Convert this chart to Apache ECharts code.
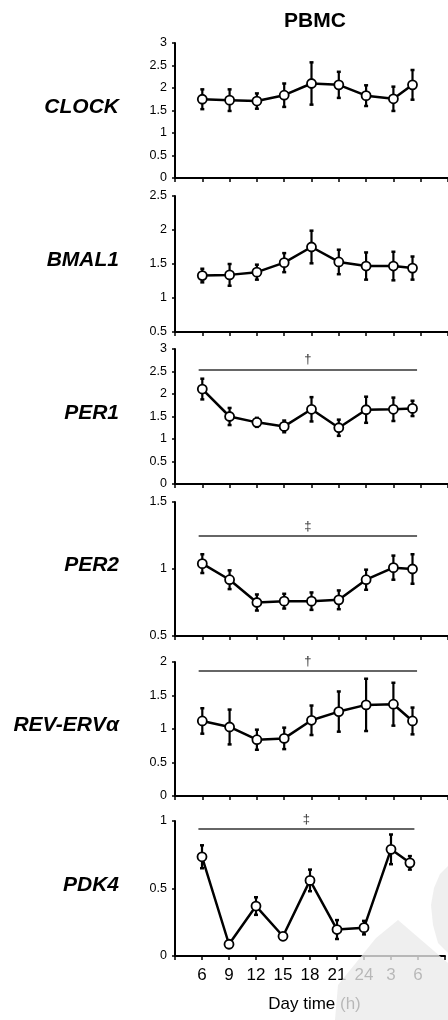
<!DOCTYPE html>
<html>
<head>
    <meta charset="utf-8">
    <title>PBMC clock genes</title>
    <script src="https://cdn.jsdelivr.net/npm/echarts@6/dist/echarts.min.js"></script>
    <style>
        html, body {margin:0;padding:0;background:#fff;}
        #chart {width:448px;height:1020px;}
    </style>
</head>
<body>
<div id="chart"></div>
<script>
    // sampling times (h, continuous), last point sits a bit before the 6h tick
    const hours = [6, 9, 12, 15, 18, 21, 24, 27, 29.1];
    const tickLabels = ['6', '9', '12', '15', '18', '21', '24', '3', '6'];

    const genes = ['CLOCK', 'BMAL1', 'PER1', 'PER2', 'REV-ERVα', 'PDK4'];

    const clockMean = [1.75, 1.73, 1.71, 1.84, 2.10, 2.07, 1.83, 1.76, 2.07];
    const clockErr = [0.22, 0.24, 0.17, 0.26, 0.47, 0.29, 0.23, 0.27, 0.33];
    const bmal1Mean = [1.33, 1.34, 1.38, 1.52, 1.75, 1.53, 1.47, 1.47, 1.44];
    const bmal1Err = [0.10, 0.16, 0.11, 0.14, 0.24, 0.18, 0.20, 0.21, 0.17];
    const per1Mean = [2.11, 1.50, 1.37, 1.28, 1.66, 1.25, 1.65, 1.66, 1.68];
    const per1Err = [0.23, 0.19, 0.10, 0.13, 0.27, 0.18, 0.29, 0.26, 0.17];
    const per2Mean = [1.04, 0.92, 0.75, 0.76, 0.76, 0.77, 0.92, 1.01, 1.00];
    const per2Err = [0.07, 0.07, 0.06, 0.055, 0.065, 0.07, 0.075, 0.09, 0.11];
    const reverbMean = [1.12, 1.03, 0.84, 0.86, 1.13, 1.26, 1.36, 1.37, 1.12];
    const reverbErr = [0.19, 0.26, 0.15, 0.16, 0.22, 0.30, 0.39, 0.32, 0.20];
    const pdk4Mean = [0.735, 0.087, 0.37, 0.146, 0.56, 0.196, 0.21, 0.79, 0.69];
    const pdk4Err = [0.085, 0.01, 0.065, 0.02, 0.08, 0.07, 0.05, 0.11, 0.05];

    const means = [clockMean, bmal1Mean, per1Mean, per2Mean, reverbMean, pdk4Mean];
    const errs = [clockErr, bmal1Err, per1Err, per2Err, reverbErr, pdk4Err];

    // y ranges per panel
    const yMin = [0, 0.5, 0, 0.5, 0, 0];
    const yMax = [3, 2.5, 3, 1.5, 2, 1];

    // significance bars
    const sigLevel = [null, null, 2.55, 1.245, 1.87, 0.945];
    const sigMark = ['', '', '†', '‡', '†', '‡'];
    const sigSpan = [5.6, 29.6];

    // panel layout
    const gridTop = [43, 196, 349, 502, 662, 821];
    const gridHeight = [135, 136, 135, 134, 134, 135];

    const FONT = '"Liberation Sans", Arial, sans-serif';

    const grids = [], xAxes = [], yAxes = [], series = [], graphics = [];

    genes.forEach(function (g, i) {
        const last = i === genes.length - 1;
        grids.push({left: 175, right: 0, top: gridTop[i], height: gridHeight[i]});
        xAxes.push({
            type: 'value', gridIndex: i, min: 3, max: 33, interval: 3,
            axisLine: {lineStyle: {color: '#000', width: 2}},
            axisTick: {show: true, length: 4, lineStyle: {color: '#000', width: 1.5}},
            splitLine: {show: false},
            axisLabel: {
                show: last, margin: 11, fontFamily: FONT, fontSize: 17, color: '#000',
                formatter: function (v) {
                    const k = Math.round((v - 6) / 3);
                    return (k >= 0 && k < tickLabels.length) ? tickLabels[k] : '';
                }
            },
            name: last ? 'Day time (h)' : '',
            nameLocation: 'middle', nameGap: 40,
            nameTextStyle: {fontFamily: FONT, fontSize: 17, color: '#000', padding: [0, 0, 0, 9]}
        });
        yAxes.push({
            type: 'value', gridIndex: i, min: yMin[i], max: yMax[i], interval: 0.5,
            axisLine: {show: true, lineStyle: {color: '#000', width: 2}},
            axisTick: {show: true, length: 3, lineStyle: {color: '#000', width: 1.5}},
            splitLine: {show: false},
            axisLabel: {margin: 8, fontFamily: FONT, fontSize: 12.5, color: '#000'}
        });

        const m = means[i], e = errs[i];
        series.push({
            type: 'custom', xAxisIndex: i, yAxisIndex: i, z: 2, silent: true,
            data: hours.map(function (h, k) { return [h, m[k] - e[k], m[k] + e[k]]; }),
            encode: {x: 0, y: [1, 2]},
            renderItem: function (params, api) {
                const lo = api.coord([api.value(0), api.value(1)]);
                const hi = api.coord([api.value(0), api.value(2)]);
                const w = 2;
                const st = {stroke: '#000', lineWidth: 2.2};
                return {
                    type: 'group', children: [
                        {type: 'line', shape: {x1: lo[0], y1: lo[1], x2: hi[0], y2: hi[1]}, style: st},
                        {type: 'line', shape: {x1: lo[0] - w, y1: lo[1], x2: lo[0] + w, y2: lo[1]}, style: {stroke: '#000', lineWidth: 2.5}},
                        {type: 'line', shape: {x1: hi[0] - w, y1: hi[1], x2: hi[0] + w, y2: hi[1]}, style: {stroke: '#000', lineWidth: 2.5}}
                    ]
                };
            }
        });

        const line = {
            type: 'line', xAxisIndex: i, yAxisIndex: i, z: 3,
            data: hours.map(function (h, k) { return [h, m[k]]; }),
            symbol: 'circle', symbolSize: 9,
            lineStyle: {color: '#000', width: 2.5},
            itemStyle: {color: '#fff', borderColor: '#000', borderWidth: 1.8}
        };
        if (sigLevel[i] !== null) {
            line.markLine = {
                silent: true, symbol: 'none',
                lineStyle: {color: '#333', width: 1.5, type: 'solid'},
                label: {show: true, position: 'middle', formatter: sigMark[i], fontFamily: FONT, fontSize: 13, color: '#333', distance: 3},
                data: [[{coord: [sigSpan[0], sigLevel[i]]}, {coord: [sigSpan[1], sigLevel[i]]}]]
            };
        }
        series.push(line);

        graphics.push({
            type: 'text', right: 329, top: gridTop[i] + gridHeight[i] / 2 - 14,
            style: {text: g, font: 'italic bold 21px ' + FONT, fill: '#000'}
        });
    });

    // faint watermark in the lower right corner
    graphics.push({
        type: 'polygon', z: 100, silent: true,
        shape: {points: [[398, 920], [448, 963], [448, 1020], [335, 1020], [338, 985], [376, 938]]},
        style: {fill: 'rgba(235,235,235,0.78)'}
    });
    graphics.push({
        type: 'polygon', z: 100, silent: true,
        shape: {points: [[448, 866], [440, 874], [434, 888], [431, 905], [433, 925], [438, 943], [448, 953]]},
        style: {fill: 'rgba(235,235,235,0.78)'}
    });

    const chart = echarts.init(document.getElementById('chart'));
    chart.setOption({
        animation: false,
        title: {
            text: 'PBMC', left: 310, top: 6, textAlign: 'center',
            textStyle: {fontFamily: FONT, fontSize: 21, fontWeight: 'bold', color: '#000'}
        },
        grid: grids,
        xAxis: xAxes,
        yAxis: yAxes,
        series: series,
        graphic: graphics
    });
</script>
</body>
</html>
